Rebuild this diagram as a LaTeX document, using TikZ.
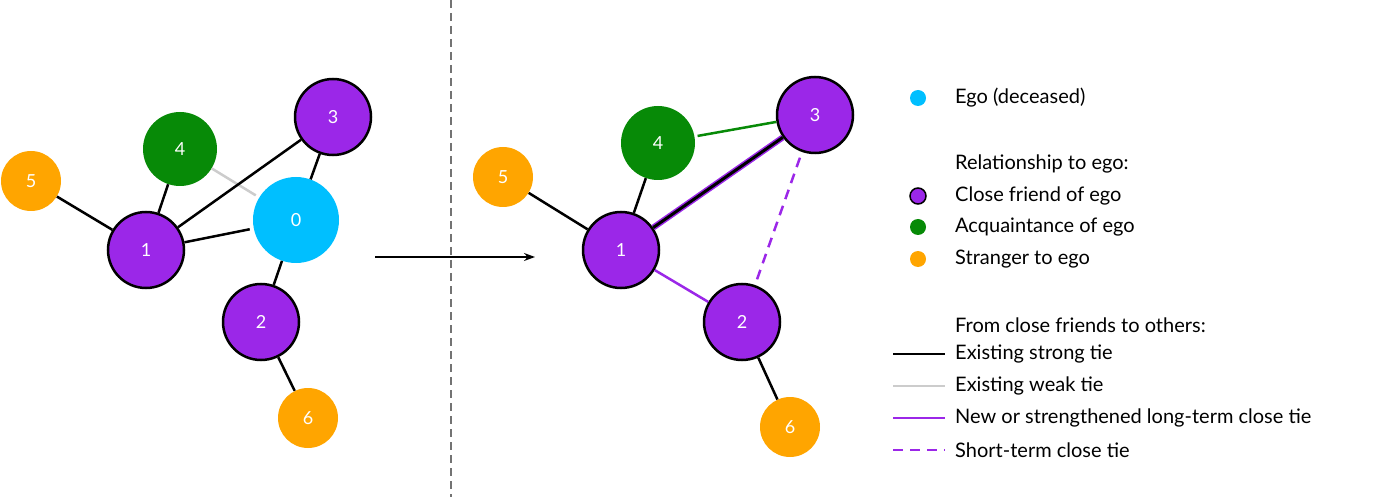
\documentclass[tikz,border=0pt]{standalone}
\usepackage{fontspec}
\setmainfont{Lato}
\usetikzlibrary{arrows.meta}
\definecolor{egoblue}{HTML}{00BFFF}
\definecolor{friend}{HTML}{9B27E8}
\definecolor{acq}{HTML}{078A07}
\definecolor{stranger}{HTML}{FFA500}
\tikzset{
  person/.style={circle, minimum size=#1, inner sep=0pt, text=white, font=\fontsize{18}{18}\selectfont},
  ego/.style={person=86pt, fill=egoblue},
  close/.style={person=76pt, fill=friend, draw=black, line width=2.5pt},
  acquaint/.style={person=74pt, fill=acq},
  strange/.style={person=60pt, fill=stranger},
  strong/.style={black, line width=2.5pt},
  weak/.style={black!20, line width=2.5pt},
  newtie/.style={friend, line width=2.5pt},
  shorttie/.style={friend, line width=2.5pt, dash pattern=on 10pt off 7pt},
  legtext/.style={anchor=west, font=\fontsize{20}{20}\selectfont, inner sep=0pt},
  dot/.style={circle, minimum size=16pt, inner sep=0pt}
}
\begin{document}
\begin{tikzpicture}[x=1pt,y=-1pt]
\useasboundingbox (0,0) rectangle (1395,497);
% before
\node[strange] (l5) at (31,181) {5};
\node[acquaint] (l4) at (180,149) {4};
\node[close] (l3) at (333,117) {3};
\node[ego] (l0) at (296,220) {0};
\node[close] (l1) at (146,250) {1};
\node[close] (l2) at (261,322) {2};
\node[strange] (l6) at (308,418) {6};
\draw[weak, shorten >=4pt] (l4) -- (l0);
\draw[strong] (l5) -- (l1);
\draw[strong] (l4) -- (l1);
\draw[strong] (l1) -- (l3);
\draw[strong, shorten >=4pt] (l1) -- (l0);
\draw[strong] (l3) -- (l0);
\draw[strong] (l0) -- (l2);
\draw[strong] (l2) -- (l6);
% separator and arrow
\coordinate (sepT) at (451,0);
\coordinate (sepB) at (451,497);
\draw[black!55, line width=1.2pt, dash pattern=on 8pt off 5pt] (sepT) -- (sepB);
\coordinate (arrA) at (375,257);
\coordinate (arrB) at (535,257);
\draw[line width=1.3pt, -{Stealth[length=11pt,width=8pt]}] (arrA) -- (arrB);
% after
\node[strange] (r5) at (503,177) {5};
\node[acquaint] (r4) at (658,143) {4};
\node[close] (r3) at (815,115) {3};
\node[close] (r1) at (621,250) {1};
\node[close] (r2) at (742,322) {2};
\node[strange] (r6) at (790,427) {6};
\draw[strong] (r5) -- (r1);
\draw[strong] (r4) -- (r1);
\draw[acq, line width=2.5pt, shorten <=3pt] (r4) -- (r3);
\draw[friend, line width=6pt] (r1) -- (r3);
\draw[black, line width=3pt] (r1) -- (r3);
\draw[newtie] (r1) -- (r2);
\draw[shorttie, shorten <=6pt, shorten >=6pt] (r3) -- (r2);
\draw[strong] (r2) -- (r6);
% legend
\node[dot, fill=egoblue] (kEgo) at (918,98) {};
\node[legtext] (tEgo) at (955,98) {Ego (deceased)};
\node[legtext] (tRel) at (955,164) {Relationship to ego:};
\node[dot, fill=friend, draw=black, line width=1.5pt] (kClose) at (918,196) {};
\node[legtext] (tClose) at (955,196) {Close friend of ego};
\node[dot, fill=acq] (kAcq) at (918,227) {};
\node[legtext] (tAcq) at (955,227) {Acquaintance of ego};
\node[dot, fill=stranger] (kStr) at (918,259) {};
\node[legtext] (tStr) at (955,259) {Stranger to ego};
\node[legtext] (tFrom) at (955,325) {From close friends to others:};
\foreach \y/\sty/\txt/\nm in {354/strong/Existing strong tie/a,
    386/weak/Existing weak tie/b,
    418/newtie/New or strengthened long-term close tie/c,
    450/shorttie/Short-term close tie/d} {
  \coordinate (k\nm L) at (893,\y);
  \coordinate (k\nm R) at (945,\y);
  \draw[\sty] (k\nm L) -- (k\nm R);
  \node[legtext] (t\nm) at (955,\y) {\txt};
}
\end{tikzpicture}
\end{document}
